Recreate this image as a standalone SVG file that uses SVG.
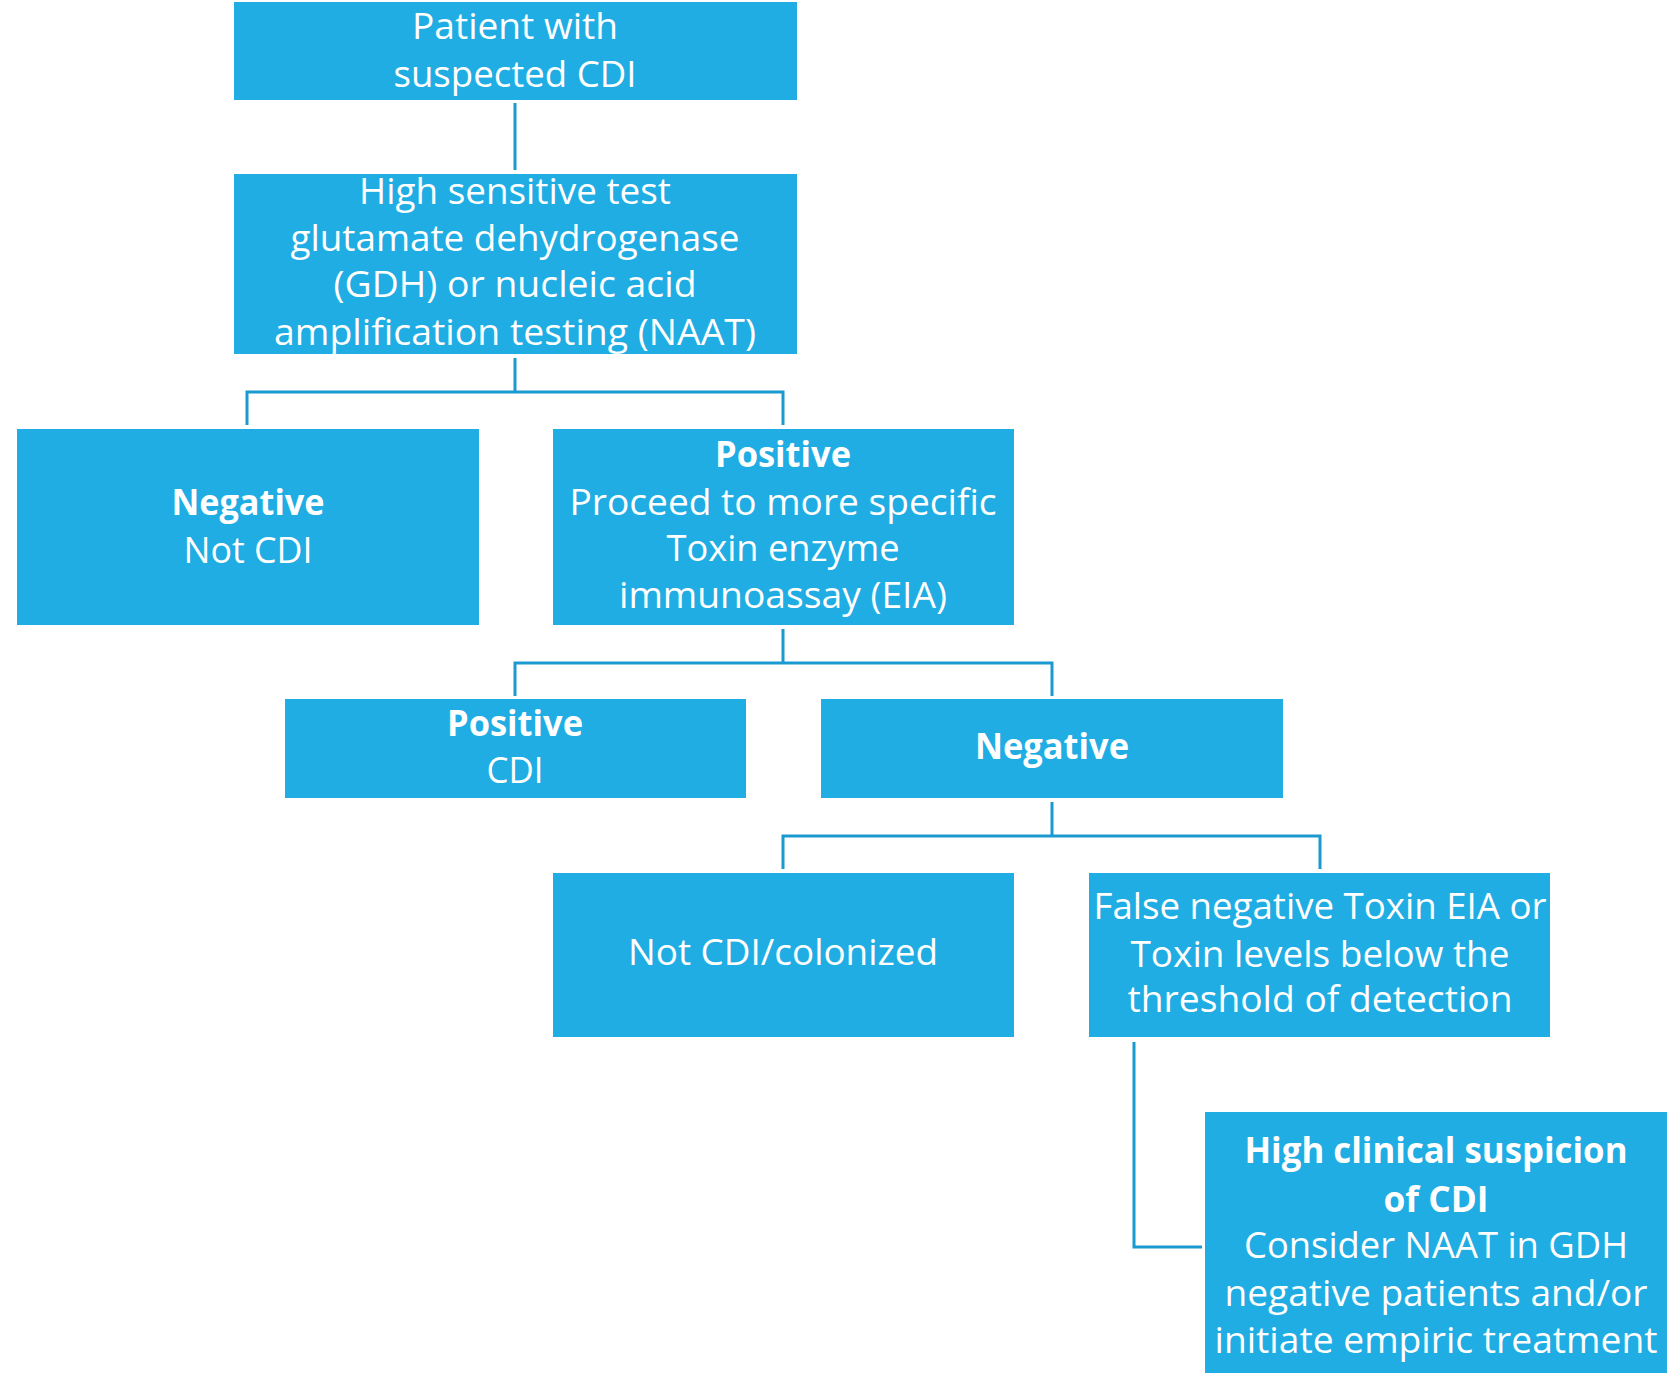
<svg xmlns="http://www.w3.org/2000/svg" width="1669" height="1375" viewBox="0 0 1669 1375">
<style>
.box{fill:#1FADE3}
.t{font-family:"Open Sans","Noto Sans","Liberation Sans",sans-serif;font-size:36px;fill:#FFFFFF;text-anchor:middle}
.b{font-weight:bold}
.c{fill:none;stroke:#1B9AD0;stroke-width:3}
</style>
<rect width="1669" height="1375" fill="#FFFFFF"/>
<g id="connectors">
<path class="c" d="M515,103 V170"/>
<path class="c" d="M515,358 V392 M247,425 V392 H783 V425"/>
<path class="c" d="M783,629 V663 M515,696 V663 H1052 V696"/>
<path class="c" d="M1052,802 V836 M783,869 V836 H1320 V869"/>
<path class="c" d="M1134,1042 V1247 H1202"/>
</g>
<g id="n1">
<rect class="box" x="234" y="2" width="563" height="98"/>
<text class="t" x="515" y="39" textLength="206" lengthAdjust="spacingAndGlyphs">Patient with</text>
<text class="t" x="515" y="87" textLength="243" lengthAdjust="spacingAndGlyphs">suspected CDI</text>
</g>
<g id="n2">
<rect class="box" x="234" y="174" width="563" height="180"/>
<text class="t" x="515" y="204" textLength="312" lengthAdjust="spacingAndGlyphs">High sensitive test</text>
<text class="t" x="515" y="251" textLength="449" lengthAdjust="spacingAndGlyphs">glutamate dehydrogenase</text>
<text class="t" x="515" y="297" textLength="363" lengthAdjust="spacingAndGlyphs">(GDH) or nucleic acid</text>
<text class="t" x="515" y="345" textLength="482" lengthAdjust="spacingAndGlyphs">amplification testing (NAAT)</text>
</g>
<g id="n3">
<rect class="box" x="17" y="429" width="462" height="196"/>
<text class="t b" x="248" y="515" textLength="153" lengthAdjust="spacingAndGlyphs">Negative</text>
<text class="t" x="248" y="563" textLength="129" lengthAdjust="spacingAndGlyphs">Not CDI</text>
</g>
<g id="n4">
<rect class="box" x="553" y="429" width="461" height="196"/>
<text class="t b" x="783" y="467" textLength="136" lengthAdjust="spacingAndGlyphs">Positive</text>
<text class="t" x="783" y="515" textLength="427" lengthAdjust="spacingAndGlyphs">Proceed to more specific</text>
<text class="t" x="783" y="561" textLength="233" lengthAdjust="spacingAndGlyphs">Toxin enzyme</text>
<text class="t" x="783" y="608" textLength="328" lengthAdjust="spacingAndGlyphs">immunoassay (EIA)</text>
</g>
<g id="n5">
<rect class="box" x="285" y="699" width="461" height="99"/>
<text class="t b" x="515" y="736" textLength="136" lengthAdjust="spacingAndGlyphs">Positive</text>
<text class="t" x="515" y="783" textLength="57" lengthAdjust="spacingAndGlyphs">CDI</text>
</g>
<g id="n6">
<rect class="box" x="821" y="699" width="462" height="99"/>
<text class="t b" x="1052" y="759" textLength="154" lengthAdjust="spacingAndGlyphs">Negative</text>
</g>
<g id="n7">
<rect class="box" x="553" y="873" width="461" height="164"/>
<text class="t" x="783" y="965" textLength="310" lengthAdjust="spacingAndGlyphs">Not CDI/colonized</text>
</g>
<g id="n8">
<rect class="box" x="1089" y="873" width="461" height="164"/>
<text class="t" x="1320" y="919" textLength="453" lengthAdjust="spacingAndGlyphs">False negative Toxin EIA or</text>
<text class="t" x="1320" y="967" textLength="379" lengthAdjust="spacingAndGlyphs">Toxin levels below the</text>
<text class="t" x="1320" y="1012" textLength="385" lengthAdjust="spacingAndGlyphs">threshold of detection</text>
</g>
<g id="n9">
<rect class="box" x="1205" y="1112" width="462" height="261"/>
<text class="t b" x="1436" y="1163" textLength="383" lengthAdjust="spacingAndGlyphs">High clinical suspicion</text>
<text class="t b" x="1436" y="1212" textLength="105" lengthAdjust="spacingAndGlyphs">of CDI</text>
<text class="t" x="1436" y="1258" textLength="384" lengthAdjust="spacingAndGlyphs">Consider NAAT in GDH</text>
<text class="t" x="1436" y="1306" textLength="423" lengthAdjust="spacingAndGlyphs">negative patients and/or</text>
<text class="t" x="1436" y="1353" textLength="443" lengthAdjust="spacingAndGlyphs">initiate empiric treatment</text>
</g>
</svg>
